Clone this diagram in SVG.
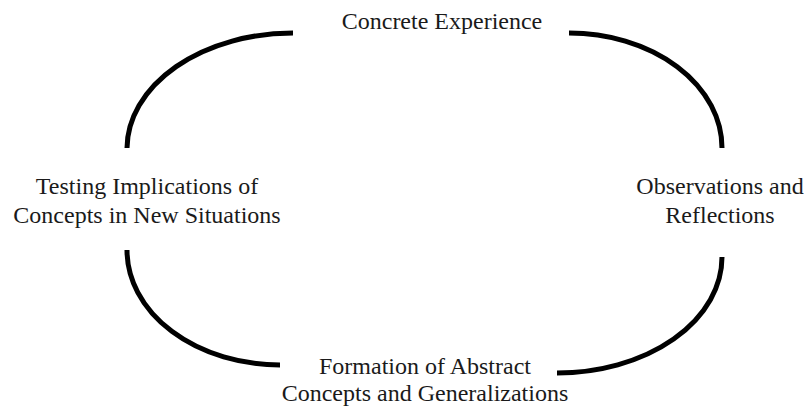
<svg xmlns="http://www.w3.org/2000/svg" width="804" height="406" viewBox="0 0 804 406">
<style>
.lbl{font-family:"Liberation Serif","Times New Roman",serif;font-size:24px;fill:#1a1a1a;text-anchor:middle}
.arc{fill:none;stroke:#000;stroke-width:5}
</style>
<rect width="804" height="406" fill="#fff"/>
<g id="connectors">
<path class="arc" d="M127,148 A166,116 0 0 1 293,33"/>
<path class="arc" d="M569,33 A153,115 0 0 1 722,148"/>
<path class="arc" d="M722,257 A165,116 0 0 1 557,373"/>
<path class="arc" d="M280,365 A153,115 0 0 1 127,250"/>
</g>
<g id="concrete-experience"><text class="lbl" x="442" y="29">Concrete Experience</text></g>
<g id="observations"><text class="lbl" x="720" y="194">Observations and</text><text class="lbl" x="720" y="223">Reflections</text></g>
<g id="formation"><text class="lbl" x="425" y="374">Formation of Abstract</text><text class="lbl" x="425" y="401">Concepts and Generalizations</text></g>
<g id="testing"><text class="lbl" x="147" y="194">Testing Implications of</text><text class="lbl" x="147" y="223">Concepts in New Situations</text></g>
</svg>
